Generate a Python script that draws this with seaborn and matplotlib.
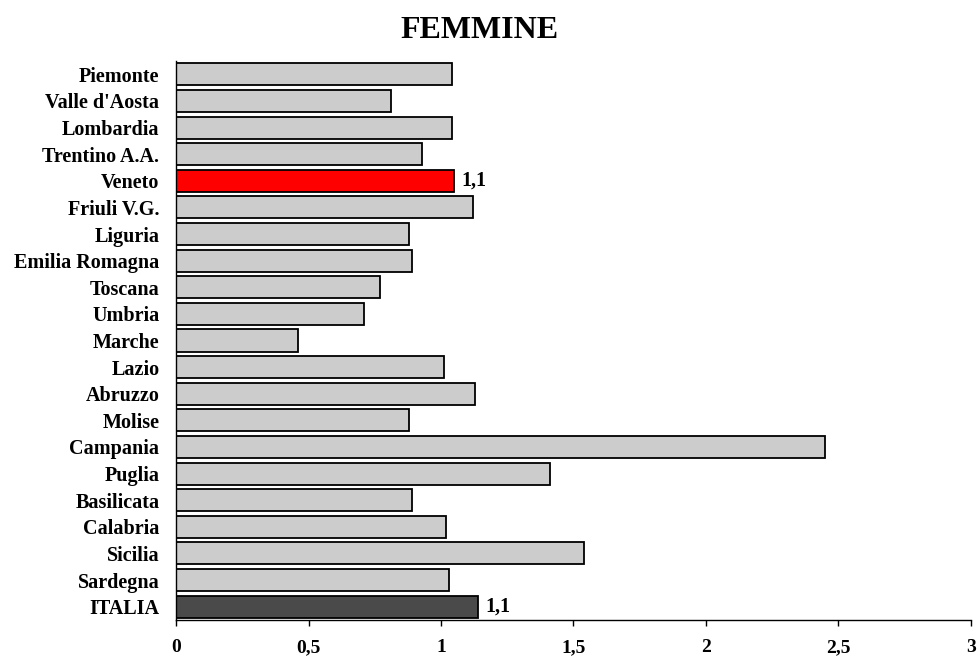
import matplotlib
matplotlib.use("Agg")
import matplotlib.pyplot as plt
import seaborn as sns
import pandas as pd

regions = ["Piemonte", "Valle d'Aosta", "Lombardia", "Trentino A.A.", "Veneto",
           "Friuli V.G.", "Liguria", "Emilia Romagna", "Toscana", "Umbria",
           "Marche", "Lazio", "Abruzzo", "Molise", "Campania", "Puglia",
           "Basilicata", "Calabria", "Sicilia", "Sardegna", "ITALIA"]
values = [1.04, 0.81, 1.04, 0.93, 1.05, 1.12, 0.88, 0.89, 0.77, 0.71,
          0.46, 1.01, 1.13, 0.88, 2.45, 1.41, 0.89, 1.02, 1.54, 1.03, 1.14]
labelled = ["Veneto", "ITALIA"]
x_ticks = [0, 0.5, 1, 1.5, 2, 2.5, 3]

colors = {r: "#CCCCCC" for r in regions}
colors["Veneto"] = "#FF0000"
colors["ITALIA"] = "#4A4A4A"

df = pd.DataFrame({"region": regions, "value": values})

sns.set_theme(style="white")
plt.rcParams["font.family"] = ["Liberation Serif", "DejaVu Serif"]
plt.rcParams["font.weight"] = "bold"
plt.rcParams["text.color"] = "black"
plt.rcParams["xtick.color"] = "black"
plt.rcParams["ytick.color"] = "black"

fig = plt.figure(figsize=(9.78, 6.59), dpi=100)
ax = fig.add_axes([176 / 978, 1 - 620 / 659, (971 - 176) / 978, (620 - 61) / 659])

sns.barplot(data=df, x="value", y="region", hue="region", palette=colors,
            orient="h", width=0.83, edgecolor="black", linewidth=1.3,
            saturation=1, legend=False, ax=ax)

for r, v in zip(regions, values):
    if r in labelled:
        ax.text(v + 0.026, regions.index(r), f"{v:.1f}".replace(".", ","),
                va="center", ha="left", fontsize=14.5, fontweight="bold")

ax.set_xlim(0, 3)
ax.set_xticks(x_ticks)
ax.set_xticklabels([f"{t:g}".replace(".", ",") for t in x_ticks],
                   fontsize=14, fontweight="bold")
ax.set_yticklabels(regions, fontsize=14.5, fontweight="bold")
ax.set_xlabel("")
ax.set_ylabel("")

for side in ["top", "right"]:
    ax.spines[side].set_visible(False)
for side in ["left", "bottom"]:
    ax.spines[side].set_color("black")
    ax.spines[side].set_linewidth(1.0)

ax.tick_params(axis="x", direction="out", length=4.5, width=1, color="black",
               bottom=True, pad=9)
ax.tick_params(axis="y", length=0, pad=12)

fig.text(480 / 978, 1 - 30 / 659, "FEMMINE", ha="center", va="center",
         fontsize=23, fontweight="bold")

fig.savefig("out.png", dpi=100)
